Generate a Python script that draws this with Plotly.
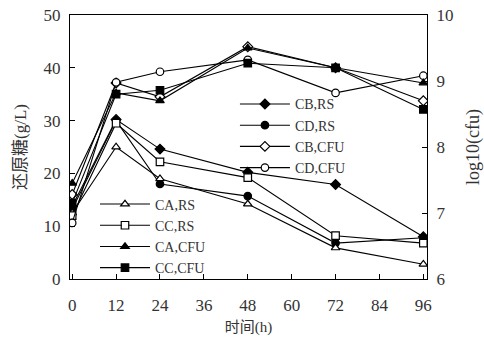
import plotly.graph_objects as go

t = [0, 12, 24, 48, 72, 96]
CA_RS = [12.5, 25.0, 19.0, 14.2, 5.9, 2.8]
CC_RS = [12.0, 29.5, 22.2, 19.2, 8.2, 6.8]
CB_RS = [13.8, 30.2, 24.6, 20.2, 17.9, 8.0]
CD_RS = [13.2, 30.0, 18.0, 15.7, 6.8, 7.8]
CA_CFU = [7.45, 8.82, 8.70, 9.50, 9.20, 8.97]
CC_CFU = [7.15, 8.80, 8.86, 9.27, 9.20, 8.57]
CB_CFU = [7.28, 8.97, 8.76, 9.52, 9.20, 8.70]
CD_CFU = [6.85, 8.98, 9.14, 9.32, 8.82, 9.08]
x_ticks = [0, 12, 24, 36, 48, 60, 72, 84, 96]

SERIF = "Liberation Serif, Times New Roman, serif"
CJK = "Liberation Serif, Noto Sans CJK SC, serif"

fig = go.Figure()

def add(name, y, symbol, filled, axis, legend):
    fig.add_trace(go.Scatter(
        x=t, y=y, name=name, mode="lines+markers", yaxis=axis, legend=legend,
        line=dict(color="black", width=1.1),
        marker=dict(symbol=symbol, size=7.5,
                    color="black" if filled else "white",
                    line=dict(color="black", width=1.2)),
    ))

# legend 1 (upper)
add("CB,RS", CB_RS, "diamond", True, "y", "legend")
add("CD,RS", CD_RS, "circle", True, "y", "legend")
add("CB,CFU", CB_CFU, "diamond", False, "y2", "legend")
add("CD,CFU", CD_CFU, "circle", False, "y2", "legend")
# legend 2 (lower)
add("CA,RS", CA_RS, "triangle-up", False, "y", "legend2")
add("CC,RS", CC_RS, "square", False, "y", "legend2")
add("CA,CFU", CA_CFU, "triangle-up", True, "y2", "legend2")
add("CC,CFU", CC_CFU, "square", True, "y2", "legend2")

axis_common = dict(showline=True, linecolor="black", linewidth=1.2,
                   ticks="inside", ticklen=5, tickcolor="black",
                   showgrid=False, zeroline=False, automargin=False,
                   tickfont=dict(family=SERIF, size=17, color="#333"))

fig.update_layout(
    width=484, height=338,
    margin=dict(l=70, r=57, t=15, b=59, autoexpand=False),
    paper_bgcolor="white", plot_bgcolor="white",
    font=dict(family=SERIF, size=14, color="#333"),
    xaxis=dict(range=[-0.6, 97], tickvals=x_ticks, mirror=True, ticklabelstandoff=10,
               title=dict(text="时间(h)", font=dict(family=CJK, size=15), standoff=7),
               **axis_common),
    yaxis=dict(range=[0, 50], tickvals=[0, 10, 20, 30, 40, 50], ticklabelstandoff=5,
               title=dict(text="还原糖(g/L)", font=dict(family=CJK, size=17), standoff=12),
               **axis_common),
    yaxis2=dict(range=[6, 10], tickvals=[6, 7, 8, 9, 10], overlaying="y", side="right",
                ticklabelstandoff=5,
                title=dict(text="log10(cfu)", font=dict(family=SERIF, size=18), standoff=20),
                **axis_common),
    legend=dict(x=0.462, y=0.722, xanchor="left", yanchor="top",
                bgcolor="rgba(0,0,0,0)", borderwidth=0, itemwidth=50,
                font=dict(family=SERIF, size=14, color="#333"), tracegroupgap=0),
    legend2=dict(x=0.07, y=0.343, xanchor="left", yanchor="top",
                 bgcolor="rgba(0,0,0,0)", borderwidth=0, itemwidth=50,
                 font=dict(family=SERIF, size=14, color="#333"), tracegroupgap=0),
)

fig.write_html("out.html")
